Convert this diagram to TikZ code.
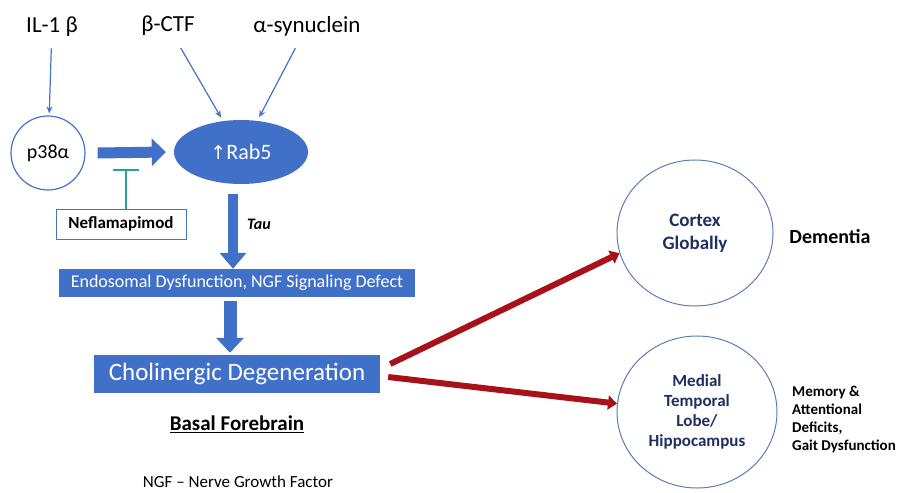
\documentclass[tikz,border=0pt]{standalone}
\usepackage{fontspec}
\setmainfont{Carlito}
\newfontfamily\djv{DejaVu Sans}
\usetikzlibrary{arrows.meta,shapes.geometric}
\definecolor{bl}{HTML}{4472C4}
\definecolor{blf}{HTML}{4070C8}
\definecolor{circ}{HTML}{5C7DB5}
\definecolor{navy}{HTML}{1F2F5F}
\definecolor{teal2}{HTML}{1FA39A}
\definecolor{dred}{HTML}{A8101A}
\tikzset{
  toplabel/.style={font=\fontsize{23}{27}\selectfont},
  thin arrow/.style={draw=bl, line width=1.2pt, -{Stealth[length=7pt,width=6pt]}},
  fat arrow/.style={draw=blf, line width=11pt, -{Triangle[length=14pt,width=27pt]}},
  red arrow/.style={draw=dred, line width=6pt, -{Triangle[length=9pt,width=14pt]}},
  bluebox/.style={fill=blf, text=white, inner sep=0pt},
  region/.style={ellipse, draw=circ, line width=1pt, text=navy, align=center, inner sep=0pt},
}
\begin{document}
\begin{tikzpicture}[x=1pt,y=-1pt]
\useasboundingbox (0,0) rectangle (903,493);
% top labels
\node[toplabel] (il1) at (52,27) {IL-1 β};
\node[toplabel] (bctf) at (168,26) {β-CTF};
\node[toplabel] (asyn) at (307,26) {α-synuclein};
% p38 and Rab5
\node[circle, draw=bl, line width=1.2pt, minimum size=74pt, inner sep=0pt, font=\fontsize{20}{24}\selectfont] (p38) at (48,153) {p38α};
\node[ellipse, fill=blf, text=white, minimum width=134pt, minimum height=64pt, inner sep=0pt, font=\fontsize{22}{26}\selectfont] (rab5) at (241,152) {{\djv\fontsize{19}{22}\selectfont ↑}Rab5};
\draw[thin arrow, shorten <=8pt, shorten >=2pt] (il1) -- (p38);
\draw[thin arrow, shorten <=10pt, shorten >=4pt] (bctf) -- (rab5);
\draw[thin arrow, shorten <=10pt, shorten >=4pt] (asyn) -- (rab5);
\draw[fat arrow] ([xshift=12pt]p38.east) -- ([xshift=-8pt]rab5.west);
% Neflamapimod
\node[draw=bl, line width=1pt, minimum width=130pt, minimum height=30pt, inner sep=0pt, font=\bfseries\fontsize{17}{20}\selectfont] (nefla) at (121,224) {Neflamapimod};
\coordinate (inh) at (126,170);
\draw[draw=teal2, line width=1.8pt] (nefla.north -| inh) -- (inh);
\draw[draw=teal2, line width=2.2pt] ([xshift=-13pt]inh) -- ([xshift=13pt]inh);
% Endosomal
\node[bluebox, minimum width=356pt, minimum height=28pt, font=\fontsize{18}{21}\selectfont] (endo) at (237,283) {Endosomal Dysfunction, NGF Signaling Defect};
\draw[fat arrow, line width=10pt, -{Triangle[length=16pt,width=26pt]}] ([yshift=-10pt]rab5.south -| 233,0) -- (endo.north -| 233,0);
\node[font=\bfseries\itshape\fontsize{16}{19}\selectfont] (tau) at (259,224) {Tau};
% Cholinergic
\node[bluebox, minimum width=286pt, minimum height=38pt, font=\fontsize{25}{30}\selectfont] (chol) at (237,374) {Cholinergic Degeneration};
\draw[fat arrow, line width=13pt, -{Triangle[length=15pt,width=27pt]}] ([yshift=-4pt]endo.south -| 230,0) -- ([yshift=2pt]chol.north -| 230,0);
\node[font=\bfseries\fontsize{21}{25}\selectfont] (basal) at (237,424) {\underline{Basal Forebrain}};
\node[font=\fontsize{17}{20}\selectfont] (ngf) at (238,482) {NGF – Nerve Growth Factor};
% regions
\node[region, minimum width=156pt, minimum height=146pt, font=\bfseries\fontsize{19}{23}\selectfont] (cortex) at (695,233) {Cortex\\Globally};
\node[region, minimum width=160pt, minimum height=152pt, font=\bfseries\fontsize{17}{20}\selectfont] (mtl) at (697,412) {Medial\\Temporal\\Lobe/\\Hippocampus};
\draw[red arrow] ([xshift=10pt,yshift=10pt]chol.east) -- (cortex.195);
\draw[red arrow] ([xshift=8pt,yshift=-3pt]chol.east) -- (mtl.174);
\node[font=\bfseries\fontsize{20}{24}\selectfont] (dem) at (830,237) {Dementia};
\node[anchor=west, align=left, inner sep=0pt, font=\bfseries\fontsize{15}{18}\selectfont] (mem) at (792,419) {Memory \&\\Attentional\\Deficits,\\Gait Dysfunction};
\end{tikzpicture}
\end{document}
